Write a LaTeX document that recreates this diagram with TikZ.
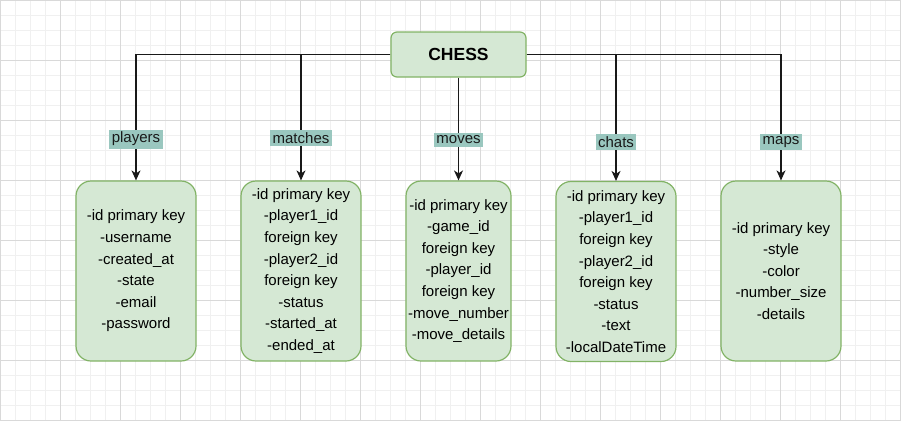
\documentclass[tikz,border=0pt]{standalone}
\usepackage{fontspec}
\setmainfont{Liberation Sans}
\usetikzlibrary{arrows.meta}
\definecolor{boxfill}{HTML}{D5E8D4}
\definecolor{boxline}{HTML}{82B366}
\definecolor{lblfill}{HTML}{9AC7BF}
\begin{document}
\begin{tikzpicture}[x=1pt,y=-1pt,
table/.style={draw=boxline,fill=boxfill,line width=1.2pt,rounded corners=15pt,minimum width=120pt,minimum height=180pt,align=center,inner sep=0pt,font=\fontsize{15}{21.6}\selectfont,execute at begin node=\rule{0pt}{17pt}},
conn/.style={-{Stealth[length=10pt,width=9pt,inset=3pt]},line width=1.3pt,color=black!90},
lbl/.style={fill=lblfill,inner sep=2.5pt,font=\fontsize{15}{18}\selectfont}]
\useasboundingbox (0,0) rectangle (901,421);
\draw[black!6,line width=1pt,step=15pt] (0pt,0pt) grid (901pt,-421pt);
\draw[black!15,line width=1pt,step=60pt] (0pt,0pt) grid (901pt,-421pt);
\node[draw=boxline,fill=boxfill,line width=1.2pt,rounded corners=6pt,minimum width=135pt,minimum height=45pt,font=\bfseries\fontsize{17.5}{20}\selectfont] (chess) at (458.5,54.5) {CHESS};
\node[table] (players) at (136,271) {-id primary key\\-username\\-created\_at\\-state\\-email\\-password};
\node[table] (matches) at (301,271) {-id primary key\\-player1\_id\\foreign key\\-player2\_id\\foreign key\\-status\\-started\_at\\-ended\_at};
\node[table,minimum width=105pt] (moves) at (458.5,271) {-id primary key\\-game\_id\\foreign key\\-player\_id\\foreign key\\-move\_number\\-move\_details};
\node[table] (chats) at (616,271.5) {-id primary key\\-player1\_id\\foreign key\\-player2\_id\\foreign key\\-status\\-text\\-localDateTime};
\node[table] (maps) at (781,271) {-id primary key\\-style\\-color\\-number\_size\\-details};
\draw[conn] (chess.west) -| (players.north) node[lbl,pos=.836] (lplayers) {players};
\draw[conn] (chess.west) -| (matches.north) node[lbl,pos=.833] (lmatches) {matches};
\draw[conn] (chess.south) -- (moves.north) node[lbl,pos=.606] (lmoves) {moves};
\draw[conn] (chess.east) -| (chats.north) node[lbl,pos=.846] (lchats) {chats};
\draw[conn] (chess.east) -| (maps.north) node[lbl,pos=.846] (lmaps) {maps};
\end{tikzpicture}
\end{document}
